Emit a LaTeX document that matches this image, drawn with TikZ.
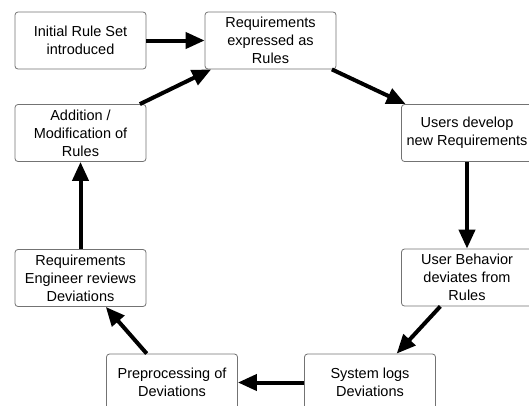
\documentclass[tikz,border=0pt]{standalone}
\usepackage{fontspec}
\setmainfont{Liberation Sans}
\usetikzlibrary{arrows.meta}
\tikzset{stepbox/.style={draw=black!55, line width=0.8pt, rounded corners=3pt, fill=white,
    minimum width=131pt, minimum height=57pt, inner sep=2pt, align=center,
    font=\fontsize{14.5}{18}\selectfont},
  flow/.style={line width=4pt, -{Triangle[length=19pt,width=16pt]}}}

\begin{document}
\begin{tikzpicture}[x=1pt,y=-1pt]
    \useasboundingbox (0,0) rectangle (529,405);

    \node[stepbox](init) at (80.5, 40.5) {Initial Rule Set\\introduced};
    \node[stepbox](expr) at (270.5, 40.5) {Requirements\\expressed as\\Rules};
    \node[stepbox](users) at (467, 133) {Users develop\\new Requirements};
    \node[stepbox](behav) at (467, 277.5) {User Behavior\\deviates from\\Rules};
    \node[stepbox](syslog) at (370, 382.5) {System logs\\Deviations};
    \node[stepbox](prep) at (172, 382.5) {Preprocessing of\\Deviations};
    \node[stepbox](review) at (80.5, 278) {Requirements\\Engineer reviews\\Deviations};
    \node[stepbox](modif) at (80.5, 133) {Addition /\\Modification of\\Rules};

    \foreach \a/\b in {init/expr, expr/users, users/behav, behav/syslog,
                       syslog/prep, prep/review, review/modif, modif/expr}
    {
      \draw[flow] (\a) -- (\b);
    }

  \end{tikzpicture}
\end{document}
